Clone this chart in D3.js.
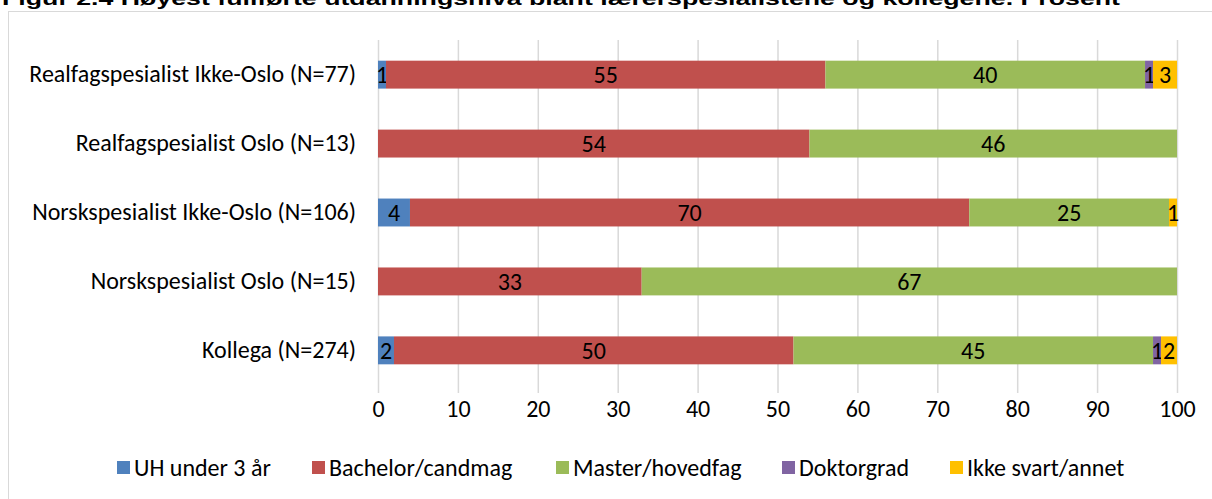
<!DOCTYPE html>
<html>
<head>
<meta charset="utf-8">
<script src="https://cdn.jsdelivr.net/npm/d3@7"></script>
<style>
  body { margin: 0; background: #fff; }
  svg { display: block; }
</style>
</head>
<body>
<svg width="1212" height="499"></svg>
<script>
var title = "Figur 2.4 Høyest fullførte utdanningsnivå blant lærerspesialistene og kollegene. Prosent";
var categories = ["Realfagspesialist Ikke-Oslo (N=77)", "Realfagspesialist Oslo (N=13)",
                  "Norskspesialist Ikke-Oslo (N=106)", "Norskspesialist Oslo (N=15)", "Kollega (N=274)"];
var seriesNames = ["UH under 3 år", "Bachelor/candmag", "Master/hovedfag", "Doktorgrad", "Ikke svart/annet"];
var uhUnder3 = [1, 0, 4, 0, 2];
var bachelor = [55, 54, 70, 33, 50];
var master   = [40, 46, 25, 67, 45];
var doktor   = [1, 0, 0, 0, 1];
var ikkeSvart = [3, 0, 1, 0, 2];
var xTicks = [0, 10, 20, 30, 40, 50, 60, 70, 80, 90, 100];
var colors = ["#4f81bd", "#c0504d", "#9bbb59", "#8064a2", "#ffc000"];

var svg = d3.select("svg");
var font = "Calibri, Carlito, 'Liberation Sans', Arial, sans-serif";

// title (top is cut off in the original)
svg.append("text")
    .attr("x", 2).attr("y", 5)
    .attr("textLength", 1118)
    .attr("lengthAdjust", "spacingAndGlyphs")
    .style("font", "bold 19px 'Liberation Sans', Arial, sans-serif")
    .attr("fill", "#000")
    .text(title);

// chart frame
svg.append("rect")
    .attr("x", 8.5).attr("y", 11.5)
    .attr("width", 1215).attr("height", 500)
    .attr("fill", "none").attr("stroke", "#d9d9d9");

var x = d3.scaleLinear().domain([0, 100]).range([378, 1177]);
var y = d3.scaleBand().domain(categories).range([40, 385]).paddingInner(0.595).paddingOuter(0.3);

// stack data
var rows = categories.map(function(c, i) {
  return {cat: c, vals: [uhUnder3[i], bachelor[i], master[i], doktor[i], ikkeSvart[i]]};
});

// gridlines
svg.append("g").selectAll("line")
    .data(xTicks)
    .enter().append("line")
    .attr("x1", function(d) { return x(d) + 0.5; })
    .attr("x2", function(d) { return x(d) + 0.5; })
    .attr("y1", 40).attr("y2", 393)
    .attr("stroke", "#d9d9d9").attr("stroke-width", 1.5);

// x axis labels
var xAxis = svg.append("g")
    .attr("transform", "translate(0,400)")
    .call(d3.axisBottom(x).tickValues(xTicks).tickSize(0).tickPadding(0));
xAxis.select(".domain").remove();
xAxis.selectAll("text")
    .attr("dy", "0.71em")
    .style("font", "24px " + font)
    .attr("fill", "#000");

// category labels
var yAxis = svg.append("g")
    .attr("transform", "translate(356,0)")
    .call(d3.axisLeft(y).tickSize(0).tickPadding(0));
yAxis.select(".domain").remove();
yAxis.selectAll("text")
    .style("font", "24px " + font)
    .attr("fill", "#000");

// bars
var bar = svg.append("g").selectAll("g")
    .data(rows)
    .enter().append("g");

bar.each(function(r) {
  var g = d3.select(this);
  var start = 0;
  r.vals.forEach(function(v, k) {
    if (v > 0) {
      g.append("rect")
          .attr("x", x(start))
          .attr("y", y(r.cat))
          .attr("width", x(start + v) - x(start))
          .attr("height", y.bandwidth())
          .attr("fill", colors[k]);
      g.append("text")
          .attr("x", (x(start) + x(start + v)) / 2)
          .attr("y", y(r.cat) + y.bandwidth() / 2)
          .attr("dy", "0.35em")
          .attr("text-anchor", "middle")
          .style("font", "24px " + font)
          .attr("fill", "#000")
          .text(v);
    }
    start += v;
  });
});

// legend
var legendX = [117, 312, 556, 782, 950];
var legend = svg.append("g").selectAll("g")
    .data(seriesNames)
    .enter().append("g")
    .attr("transform", function(d, i) { return "translate(" + legendX[i] + ",461)"; });
legend.append("rect")
    .attr("width", 13).attr("height", 13)
    .attr("fill", function(d, i) { return colors[i]; });
legend.append("text")
    .attr("x", 17).attr("y", 7)
    .attr("dy", "0.35em")
    .style("font", "24px " + font)
    .attr("fill", "#000")
    .text(function(d) { return d; });
</script>
</body>
</html>
